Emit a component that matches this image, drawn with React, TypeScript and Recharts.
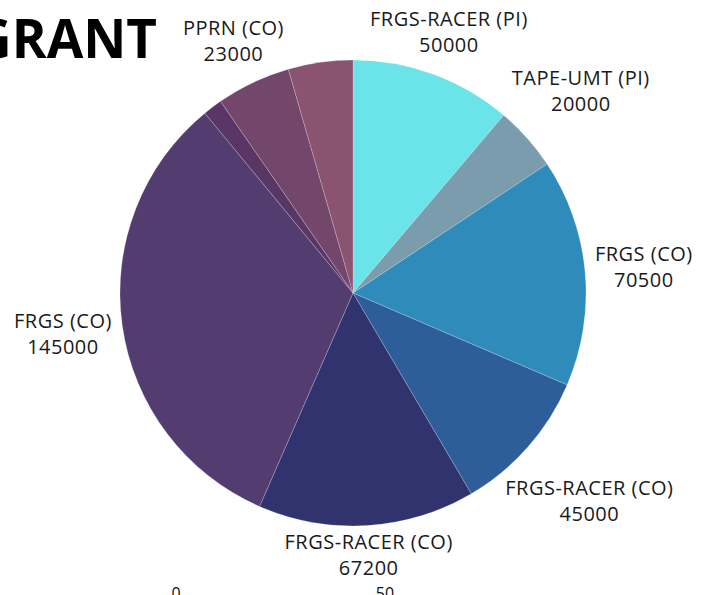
import React from 'react'
import { PieChart, Pie, Cell } from 'recharts'

const names = [
  'FRGS-RACER (PI)',
  'TAPE-UMT (PI)',
  'FRGS (CO)',
  'FRGS-RACER (CO)',
  'FRGS-RACER (CO)',
  'FRGS (CO)',
  'Other',
  'PPRN (CO)',
  'Other (PI)'
]
const amounts = [50000, 20000, 70500, 45000, 67200, 145000, 6000, 23000, 20000]
const showLabel = [true, true, true, true, true, true, false, true, false]
const COLORS = ['#6ae4e8', '#7a9cad', '#2e8bba', '#2e5e99', '#30336e', '#523c70', '#5a3666', '#73466c', '#8a5470']

const data = names.map((name, i) => ({ name, value: amounts[i], show: showLabel[i] }))

const FONT = '"Open Sans", sans-serif'
const FONT_SIZE = 20
const SPACING = 0.5
const RAD = Math.PI / 180

let ctx: CanvasRenderingContext2D | null = null
function textWidth(s: string) {
  if (!ctx) {
    ctx = document.createElement('canvas').getContext('2d')
  }
  if (!ctx) return s.length * 10.8
  ctx.font = `${FONT_SIZE}px "Open Sans"`
  return ctx.measureText(s).width + SPACING * s.length
}

// distance from pie centre to the nearest point of a box centred at (x, y)
function boxDist(x: number, y: number, hw: number, hh: number) {
  const nx = Math.max(Math.abs(x) - hw, 0)
  const ny = Math.max(Math.abs(y) - hh, 0)
  return Math.sqrt(nx * nx + ny * ny)
}

function renderLabel(props: any) {
  const { cx, cy, midAngle, outerRadius, index } = props
  const d = data[index]
  if (!d.show) return null
  const vx = Math.cos(-midAngle * RAD)
  const vy = Math.sin(-midAngle * RAD)
  const hw = Math.max(textWidth(d.name), textWidth(String(d.value))) / 2
  const hh = 20
  const R = outerRadius + 9
  let lo = 0
  let hi = 700
  for (let i = 0; i < 40; i++) {
    const mid = (lo + hi) / 2
    if (boxDist(mid * vx, mid * vy, hw, hh) < R) lo = mid
    else hi = mid
  }
  const x = cx + lo * vx
  const y = cy + lo * vy
  return (
    <text x={x} y={y} textAnchor="middle" fill="#1a1a1a" fontFamily={FONT} fontSize={FONT_SIZE} letterSpacing={SPACING}>
      <tspan x={x} y={y - 5.7}>{d.name}</tspan>
      <tspan x={x} y={y + 20.3}>{d.value}</tspan>
    </text>
  )
}

export default function App() {
  return (
    <div style={{ position: 'absolute', left: 0, top: 0, width: 702, height: 595, background: '#fff', overflow: 'hidden' }}>
      <PieChart width={702} height={595} margin={{ top: 0, right: 0, bottom: 0, left: 0 }}>
        <text x={157} y={58} textAnchor="end" fontFamily={FONT} fontWeight={700} fontSize={53} fill="#000">GRANT</text>
        <Pie
          data={data}
          dataKey="value"
          cx={353}
          cy={293}
          outerRadius={233}
          startAngle={90}
          endAngle={-270}
          stroke="#ffffff"
          strokeWidth={0.4}
          strokeOpacity={0.5}
          label={renderLabel}
          labelLine={false}
          isAnimationActive={false}
        >
          {data.map((entry, idx) => (
            <Cell key={`cell-${idx}`} fill={COLORS[idx]} />
          ))}
        </Pie>
        <text x={176} y={599} textAnchor="middle" fontFamily={FONT} fontSize={16} fill="#111">0</text>
        <text x={385} y={599} textAnchor="middle" fontFamily={FONT} fontSize={16} fill="#111">50</text>
      </PieChart>
    </div>
  )
}
